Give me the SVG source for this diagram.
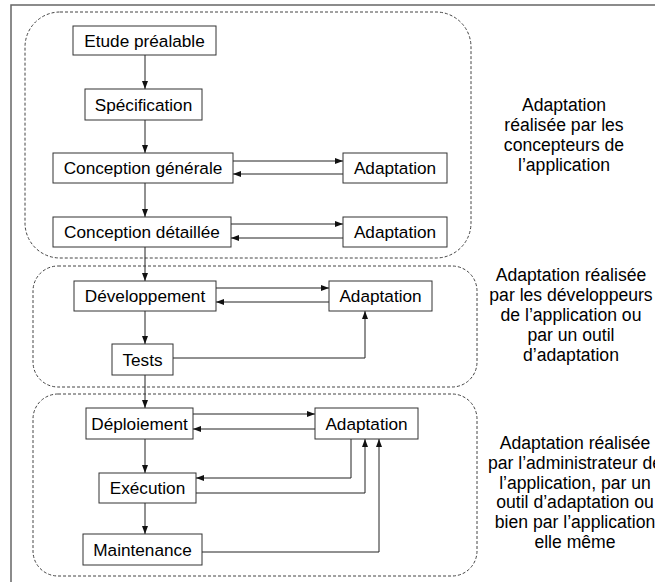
<svg xmlns="http://www.w3.org/2000/svg" width="655" height="582" viewBox="0 0 655 582">
  <style>
    .frame { fill: none; stroke: #666; stroke-width: 1.5; }
    .zone { fill: none; stroke: #444; stroke-width: 1; stroke-dasharray: 3 2; }
    .box { fill: #fff; stroke: #333; stroke-width: 1; }
    .lbl { font-family: "Liberation Sans", Arial, sans-serif; font-size: 17.2px; fill: #000; text-anchor: middle; }
    .note { font-family: "Liberation Sans", Arial, sans-serif; font-size: 17.6px; fill: #000; text-anchor: middle; }
    .edge { fill: none; stroke: #222; stroke-width: 1; }
  </style>
  <defs>
    <marker id="arrow" markerWidth="8" markerHeight="6" refX="8" refY="3" orient="auto" markerUnits="userSpaceOnUse">
      <path d="M0,0 L8,3 L0,6 z" fill="#111"/>
    </marker>
  </defs>

  <rect width="655" height="582" fill="#fff"/>
  <!-- page frame -->
  <path class="frame" d="M11,582 V5 H655"/>

  <!-- phase zones -->
  <g id="zones">
    <rect class="zone" x="25" y="12" width="446" height="246" rx="35" ry="35"/>
    <rect class="zone" x="33" y="266" width="444" height="121" rx="25" ry="25"/>
    <rect class="zone" x="33" y="394" width="444" height="182" rx="25" ry="25"/>
  </g>

  <!-- connectors -->
  <g id="connectors">
    <path class="edge" d="M145,55 V89" marker-end="url(#arrow)"/>
    <path class="edge" d="M145,120 V153" marker-end="url(#arrow)"/>
    <path class="edge" d="M145,183 V217" marker-end="url(#arrow)"/>
    <path class="edge" d="M145,247 V281" marker-end="url(#arrow)"/>
    <path class="edge" d="M145,311 V344" marker-end="url(#arrow)"/>
    <path class="edge" d="M145,375 V408" marker-end="url(#arrow)"/>
    <path class="edge" d="M145,439 V473" marker-end="url(#arrow)"/>
    <path class="edge" d="M145,503 V534" marker-end="url(#arrow)"/>

    <path class="edge" d="M233,161 H343" marker-end="url(#arrow)"/>
    <path class="edge" d="M343,174 H233" marker-end="url(#arrow)"/>
    <path class="edge" d="M231,224 H343" marker-end="url(#arrow)"/>
    <path class="edge" d="M343,238 H231" marker-end="url(#arrow)"/>

    <path class="edge" d="M216,288 H329" marker-end="url(#arrow)"/>
    <path class="edge" d="M329,302 H216" marker-end="url(#arrow)"/>
    <path class="edge" d="M173,358 H365 V311" marker-end="url(#arrow)"/>

    <path class="edge" d="M193,414 H315" marker-end="url(#arrow)"/>
    <path class="edge" d="M315,429 H193" marker-end="url(#arrow)"/>
    <path class="edge" d="M351,439 V478 H196" marker-end="url(#arrow)"/>
    <path class="edge" d="M196,493 H365 V439" marker-end="url(#arrow)"/>
    <path class="edge" d="M202,552 H379 V439" marker-end="url(#arrow)"/>
  </g>

  <!-- design phase -->
  <g id="etude">
    <rect class="box" x="73" y="26" width="143" height="29"/>
    <text class="lbl" x="144.5" y="46.5">Etude préalable</text>
  </g>
  <g id="specification">
    <rect class="box" x="85" y="89" width="117" height="31"/>
    <text class="lbl" x="143.5" y="110.5">Spécification</text>
  </g>
  <g id="conception-generale">
    <rect class="box" x="53" y="153" width="180" height="30"/>
    <text class="lbl" x="143" y="174">Conception générale</text>
  </g>
  <g id="adaptation-1">
    <rect class="box" x="343" y="153" width="104" height="30"/>
    <text class="lbl" x="395" y="174">Adaptation</text>
  </g>
  <g id="conception-detaillee">
    <rect class="box" x="53" y="217" width="178" height="30"/>
    <text class="lbl" x="142" y="238">Conception détaillée</text>
  </g>
  <g id="adaptation-2">
    <rect class="box" x="343" y="217" width="104" height="30"/>
    <text class="lbl" x="395" y="238">Adaptation</text>
  </g>

  <!-- development phase -->
  <g id="developpement">
    <rect class="box" x="74" y="281" width="142" height="30"/>
    <text class="lbl" x="145" y="302">Développement</text>
  </g>
  <g id="adaptation-3">
    <rect class="box" x="329" y="281" width="103" height="30"/>
    <text class="lbl" x="380.5" y="302">Adaptation</text>
  </g>
  <g id="tests">
    <rect class="box" x="112" y="344" width="61" height="31"/>
    <text class="lbl" x="142.5" y="365.5">Tests</text>
  </g>

  <!-- operation phase -->
  <g id="deploiement">
    <rect class="box" x="86" y="408" width="107" height="31"/>
    <text class="lbl" x="139.5" y="429.5">Déploiement</text>
  </g>
  <g id="adaptation-4">
    <rect class="box" x="315" y="408" width="103" height="31"/>
    <text class="lbl" x="366.5" y="429.5">Adaptation</text>
  </g>
  <g id="execution">
    <rect class="box" x="99" y="473" width="97" height="30"/>
    <text class="lbl" x="147.5" y="494">Exécution</text>
  </g>
  <g id="maintenance">
    <rect class="box" x="83" y="534" width="119" height="31"/>
    <text class="lbl" x="142.5" y="555.5">Maintenance</text>
  </g>

  <!-- side notes -->
  <g id="note-conception">
    <text class="note" x="564" y="111">Adaptation</text>
    <text class="note" x="564" y="131">réalisée par les</text>
    <text class="note" x="564" y="151">concepteurs de</text>
    <text class="note" x="564" y="171">l’application</text>
  </g>
  <g id="note-developpement">
    <text class="note" x="571" y="281">Adaptation réalisée</text>
    <text class="note" x="571" y="301">par les développeurs</text>
    <text class="note" x="571" y="321">de l’application ou</text>
    <text class="note" x="571" y="341">par un outil</text>
    <text class="note" x="571" y="361">d’adaptation</text>
  </g>
  <g id="note-exploitation">
    <text class="note" x="575" y="449">Adaptation réalisée</text>
    <text class="note" x="575" y="469">par l’administrateur de</text>
    <text class="note" x="575" y="489">l’application, par un</text>
    <text class="note" x="575" y="508">outil d’adaptation ou</text>
    <text class="note" x="575" y="528">bien par l’application</text>
    <text class="note" x="575" y="548">elle même</text>
  </g>
</svg>
